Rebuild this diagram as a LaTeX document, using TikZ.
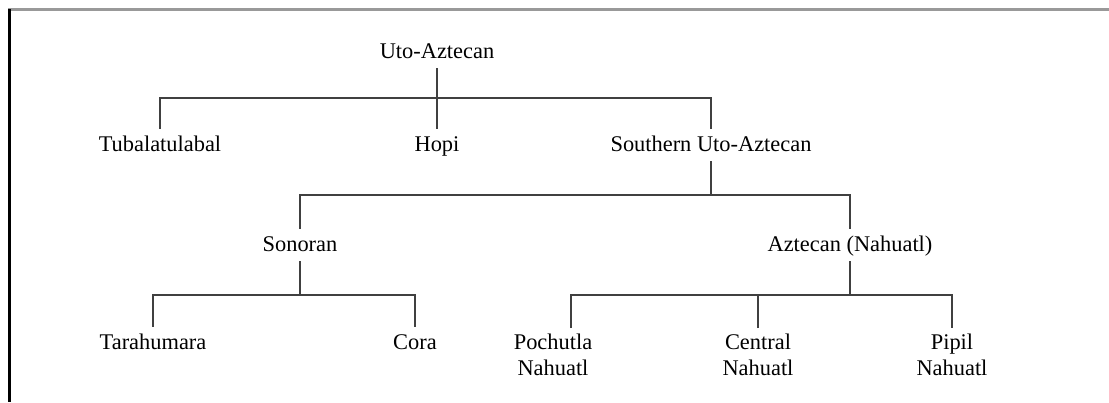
\documentclass[tikz,border=0pt]{standalone}
\usepackage{fontspec}
\setmainfont{Liberation Serif}

\begin{document}
\begin{tikzpicture}[x=0.5pt,y=-0.5pt,font=\fontsize{11.2}{13}\selectfont,
  lang/.style={inner xsep=2pt,inner ysep=3pt,text height=8pt,text depth=2pt},
  pair/.style={align=center,anchor=north,inner ysep=3pt},
  branch/.style={draw=black!75,line width=1pt}]
  \useasboundingbox (0,0) rectangle (1109,402);
  % frame
  \draw[black!40,line width=1.5pt] (8,9.5) -- (1109,9.5);
  \draw[line width=1.5pt] (9,9) -- (9,402);
  % languages
  \node[lang] (uto) at (437,52) {Uto-Aztecan};
  \node[lang] (tuba) at (160,145) {Tubalatulabal};
  \node[lang] (hopi) at (437,145) {Hopi};
  \node[lang] (sua) at (711,145) {Southern Uto-Aztecan};
  \node[lang] (sonoran) at (300,245) {Sonoran};
  \node[lang] (aztecan) at (850,245) {Aztecan (Nahuatl)};
  \node[lang] (tara) at (153,343) {Tarahumara};
  \node[lang] (cora) at (415,343) {Cora};
  \node[pair] (pochutla) at (553,328) {Pochutla\\Nahuatl};
  \node[pair] (central) at (758,328) {Central\\Nahuatl};
  \node[pair] (pipil) at (952,328) {Pipil\\Nahuatl};
  % bar levels
  \coordinate (bar1) at (0,98);
  \coordinate (bar2) at (0,195);
  \coordinate (bar3) at (0,295);
  % branches
  \draw[branch] (uto.south) -- (hopi.north);
  \draw[branch] (tuba.north) |- (sua |- bar1) -- (sua.north);
  \draw[branch] (sua.south) -- (sua |- bar2);
  \draw[branch] (sonoran.north) |- (aztecan |- bar2) -- (aztecan.north);
  \draw[branch] (sonoran.south) -- (sonoran |- bar3);
  \draw[branch] (tara.north) |- (cora |- bar3) -- (cora.north);
  \draw[branch] (aztecan.south) -- (aztecan |- bar3);
  \draw[branch] ([xshift=9pt]pochutla.north) |- (pipil |- bar3) -- (pipil.north);
  \draw[branch] (central.north) -- (central |- bar3);
\end{tikzpicture}
\end{document}
